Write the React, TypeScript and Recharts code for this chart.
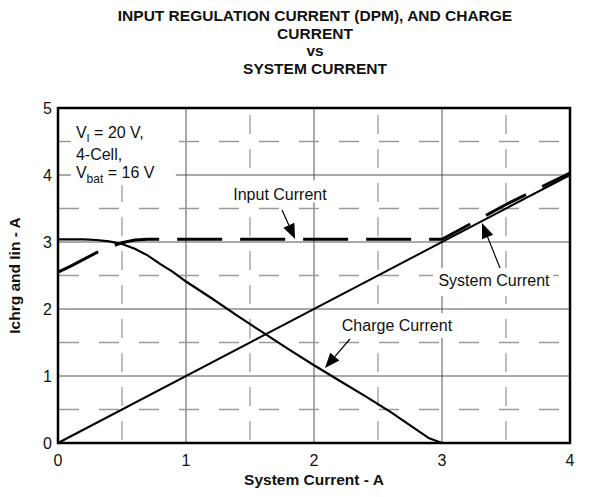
import { CartesianGrid, Line, LineChart, XAxis, YAxis } from 'recharts';

// axis ticks and grid values
const xTicks = [0, 1, 2, 3, 4];
const yTicks = [0, 1, 2, 3, 4, 5];
const minorX = [0.5, 1.5, 2.5, 3.5];
const minorY = [0.5, 1.5, 2.5, 3.5, 4.5];

// series (x = system current A, y = current A)
const systemCurrent = [
  { x: 0, y: 0 },
  { x: 4, y: 4 },
];

const inputCurrent = [
  { x: 0, y: 2.55 },
  { x: 0.1, y: 2.64 },
  { x: 0.2, y: 2.74 },
  { x: 0.3, y: 2.84 },
  { x: 0.4, y: 2.92 },
  { x: 0.5, y: 2.99 },
  { x: 0.6, y: 3.03 },
  { x: 0.7, y: 3.04 },
  { x: 3.0, y: 3.04 },
  { x: 3.5, y: 3.56 },
  { x: 4.0, y: 4.03 },
];

const chargeCurrent = [
  { x: 0, y: 3.04 },
  { x: 0.2, y: 3.04 },
  { x: 0.3, y: 3.03 },
  { x: 0.4, y: 3.01 },
  { x: 0.5, y: 2.97 },
  { x: 0.6, y: 2.9 },
  { x: 0.7, y: 2.8 },
  { x: 0.8, y: 2.67 },
  { x: 0.9, y: 2.55 },
  { x: 1.0, y: 2.41 },
  { x: 1.2, y: 2.16 },
  { x: 1.4, y: 1.9 },
  { x: 1.6, y: 1.65 },
  { x: 1.8, y: 1.4 },
  { x: 2.0, y: 1.16 },
  { x: 2.2, y: 0.93 },
  { x: 2.4, y: 0.7 },
  { x: 2.6, y: 0.46 },
  { x: 2.8, y: 0.2 },
  { x: 2.9, y: 0.07 },
  { x: 3.0, y: 0 },
  { x: 4.0, y: 0 },
];

const W = 596;
const H = 497;
const M = { top: 108, right: 26, bottom: 54, left: 58 };
const PW = W - M.left - M.right;
const PH = H - M.top - M.bottom;
const FONT = '"Liberation Sans", Arial, Helvetica, sans-serif';

const sx = (v: number) => M.left + (v / 4) * PW;
const sy = (v: number) => M.top + (1 - v / 5) * PH;

function Arrow({ from, to }: { from: [number, number]; to: [number, number] }) {
  const x1 = sx(from[0]);
  const y1 = sy(from[1]);
  const x2 = sx(to[0]);
  const y2 = sy(to[1]);
  const len = Math.hypot(x2 - x1, y2 - y1);
  const ux = (x2 - x1) / len;
  const uy = (y2 - y1) / len;
  const hl = 15;
  const hw = 6;
  const bx = x2 - ux * hl;
  const by = y2 - uy * hl;
  return (
    <g>
      <line x1={x1} y1={y1} x2={bx} y2={by} stroke="#000" strokeWidth={1.2} />
      <path
        d={`M${x2},${y2} L${bx - uy * hw},${by + ux * hw} L${bx + uy * hw},${by - ux * hw} Z`}
        fill="#000"
      />
    </g>
  );
}

function Box({ x0, x1, y0, y1 }: { x0: number; x1: number; y0: number; y1: number }) {
  return <rect x={sx(x0)} y={sy(y1)} width={sx(x1) - sx(x0)} height={sy(y0) - sy(y1)} fill="#fff" />;
}

const majorH = (p: any) => <line x1={p.x1} y1={p.y1} x2={p.x2} y2={p.y2} stroke="#555" strokeWidth={1} />;
const minorH = (p: any) => (
  <line x1={p.x1} y1={p.y1} x2={p.x2} y2={p.y2} stroke="#9a9a9a" strokeWidth={1.3} strokeDasharray="20 20" strokeDashoffset={39} />
);
const minorV = (p: any) => (
  <line x1={p.x1} y1={p.y1} x2={p.x2} y2={p.y2} stroke="#9a9a9a" strokeWidth={1.3} strokeDasharray="19 15" strokeDashoffset={27} />
);

export default function App() {
  const labelStyle = { fontFamily: FONT, fontSize: 16, fill: '#111' };
  return (
    <div style={{ position: 'absolute', left: 0, top: 0, width: W, height: H, background: '#fff' }}>
      <LineChart width={W} height={H} margin={{ top: M.top, right: M.right, left: 0, bottom: 0 }}>
        <CartesianGrid horizontal={majorH} vertical={majorH} />
        <CartesianGrid horizontalValues={minorY} verticalValues={minorX} horizontal={minorH} vertical={minorV} />
        <XAxis
          type="number"
          dataKey="x"
          domain={[0, 4]}
          ticks={xTicks}
          height={M.bottom}
          axisLine={false}
          tickLine={false}
          tickMargin={6}
          tick={{ fontFamily: FONT, fontSize: 16, fill: '#111' }}
        />
        <YAxis
          type="number"
          dataKey="y"
          domain={[0, 5]}
          ticks={yTicks}
          width={M.left}
          axisLine={false}
          tickLine={false}
          tickMargin={0}
          tick={{ fontFamily: FONT, fontSize: 16, fill: '#111' }}
        />
        <Line data={systemCurrent} dataKey="y" type="linear" stroke="#000" strokeWidth={2} dot={false} isAnimationActive={false} />
        <Line data={chargeCurrent} dataKey="y" type="linear" stroke="#000" strokeWidth={2.2} dot={false} isAnimationActive={false} />
        <Line
          data={inputCurrent}
          dataKey="y"
          type="linear"
          stroke="#000"
          strokeWidth={3}
          strokeDasharray="45 18"
          dot={false}
          isAnimationActive={false}
        />
      </LineChart>
      <svg width={W} height={H} style={{ position: 'absolute', left: 0, top: 0, pointerEvents: 'none' }}>
        <g fontFamily={FONT} fontWeight="bold" fontSize={15.5} fill="#111" textAnchor="middle">
          <text x={315} y={21}>INPUT REGULATION CURRENT (DPM), AND CHARGE</text>
          <text x={315} y={39}>CURRENT</text>
          <text x={315} y={56}>vs</text>
          <text x={315} y={74}>SYSTEM CURRENT</text>
          <text x={sx(2)} y={485}>System Current - A</text>
          <text x={14} y={sy(2.5)} transform={`rotate(-90 14 ${sy(2.5)})`} dominantBaseline="central">
            Ichrg and Iin - A
          </text>
        </g>

        <Box x0={0.1} x1={0.92} y0={3.85} y1={4.95} />
        <Box x0={1.33} x1={2.15} y0={3.59} y1={3.92} />
        <Box x0={2.93} x1={3.87} y0={2.19} y1={2.61} />
        <Box x0={2.18} x1={3.12} y0={1.57} y1={1.94} />

        <text x={sx(0.14)} y={138} {...labelStyle}>
          V<tspan dy={4} fontSize={11}>I</tspan>
          <tspan dy={-4}> = 20 V,</tspan>
        </text>
        <text x={sx(0.14)} y={160} {...labelStyle}>4-Cell,</text>
        <text x={sx(0.14)} y={178} {...labelStyle}>
          V<tspan dy={5} fontSize={12}>bat</tspan>
          <tspan dy={-5}> = 16 V</tspan>
        </text>

        <text x={sx(1.734)} y={sy(3.716)} textAnchor="middle" dominantBaseline="central" {...labelStyle}>Input Current</text>
        <text x={sx(3.406)} y={sy(2.418)} textAnchor="middle" dominantBaseline="central" {...labelStyle}>System Current</text>
        <text x={sx(2.648)} y={sy(1.761)} textAnchor="middle" dominantBaseline="central" {...labelStyle}>Charge Current</text>

        <Arrow from={[1.75, 3.478]} to={[1.852, 3.045]} />
        <Arrow from={[3.453, 2.612]} to={[3.3125, 3.284]} />
        <Arrow from={[2.281, 1.552]} to={[2.086, 1.119]} />

        <rect x={M.left} y={M.top} width={PW} height={PH} fill="none" stroke="#000" strokeWidth={2.5} />
      </svg>
    </div>
  );
}
